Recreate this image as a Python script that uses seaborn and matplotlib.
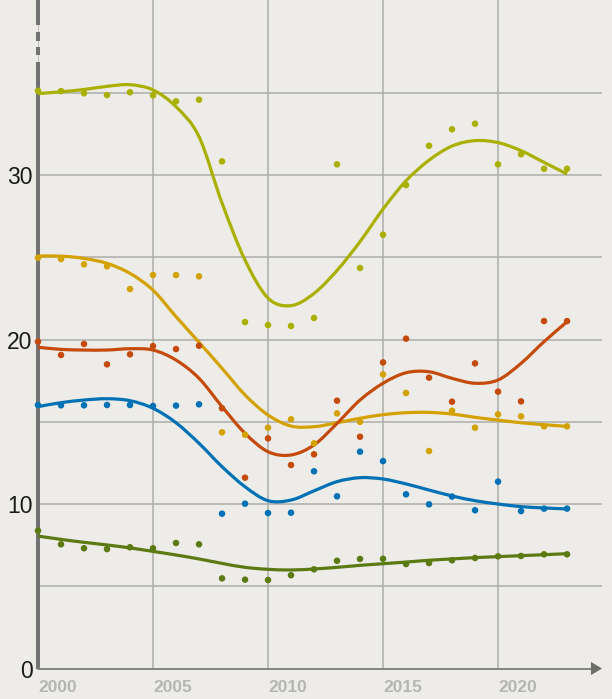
import numpy as np
import pandas as pd
import matplotlib
matplotlib.use('Agg')
import matplotlib.pyplot as plt
from matplotlib.path import Path
from matplotlib.patches import PathPatch
import seaborn as sns

years = list(range(2000, 2024))

# observed points
olive_pts = [35.12, 35.1, 34.97, 34.86, 35.03, 34.84, 34.48, 34.58, 30.83, 21.06, 20.88, 20.82,
             21.31, 30.65, 24.35, 26.37, 29.39, 31.78, 32.78, 33.12, 30.65, 31.26, 30.38, 30.38]
gold_pts = [24.97, 24.89, 24.57, 24.45, 23.07, 23.92, 23.92, 23.84, 14.36, 14.21, 14.64, 15.15,
            13.69, 15.51, 15.0, 17.88, 16.75, 13.22, 15.67, 14.64, 15.45, 15.33, 14.72, 14.72]
red_pts = [19.87, 19.06, 19.73, 18.49, 19.1, 19.6, 19.42, 19.62, 15.82, 11.6, 13.99, 12.37,
           13.02, 16.28, 14.09, 18.61, 20.05, 17.68, 16.22, 18.55, 16.83, 16.24, 21.12, 21.12]
blue_pts = [16.02, 16.0, 16.0, 16.02, 16.02, 15.96, 15.98, 16.06, 9.41, 10.02, 9.45, 9.47,
            11.99, 10.47, 13.18, 12.61, 10.59, 9.98, 10.45, 9.62, 11.36, 9.57, 9.72, 9.72]
green_pts = [8.38, 7.55, 7.31, 7.26, 7.37, 7.31, 7.63, 7.55, 5.48, 5.4, 5.38, 5.67,
             6.03, 6.55, 6.66, 6.67, 6.35, 6.41, 6.58, 6.72, 6.82, 6.84, 6.94, 6.94]

# trend curves
olive_fit = [34.95, 35.06, 35.2, 35.39, 35.49, 35.17, 34.15, 32.33, 28.3, 24.83, 22.52, 22.06,
             22.8, 24.2, 25.95, 27.93, 29.65, 30.9, 31.76, 32.09, 31.97, 31.48, 30.77, 30.06]
gold_fit = [25.07, 25.07, 24.93, 24.63, 24.02, 23.0, 21.39, 19.83, 18.25, 16.63, 15.41, 14.74,
            14.7, 14.94, 15.21, 15.43, 15.55, 15.57, 15.47, 15.27, 15.1, 14.94, 14.82, 14.72]
red_fit = [19.53, 19.4, 19.36, 19.36, 19.44, 19.36, 18.75, 17.64, 15.92, 14.3, 13.18, 12.98,
           13.59, 14.9, 16.32, 17.34, 17.98, 18.04, 17.64, 17.34, 17.54, 18.55, 19.87, 21.08]
blue_fit = [15.92, 16.16, 16.32, 16.4, 16.28, 15.82, 14.94, 13.69, 12.27, 11.05, 10.2, 10.24,
            10.8, 11.36, 11.6, 11.52, 11.22, 10.85, 10.49, 10.2, 10.0, 9.84, 9.76, 9.7]
green_fit = [8.05, 7.85, 7.67, 7.51, 7.33, 7.12, 6.9, 6.66, 6.39, 6.15, 6.03, 5.99,
             6.05, 6.15, 6.27, 6.37, 6.47, 6.58, 6.66, 6.74, 6.8, 6.86, 6.92, 6.98]

series = ['olive', 'gold', 'red', 'blue', 'green']
colors = {'olive': '#AAB000', 'gold': '#D4A200', 'red': '#C54B0C',
          'blue': '#0071B4', 'green': '#5B7A12'}
fits = {'olive': olive_fit, 'gold': gold_fit, 'red': red_fit,
        'blue': blue_fit, 'green': green_fit}

pts = pd.DataFrame({'year': years * 5,
                    'value': olive_pts + gold_pts + red_pts + blue_pts + green_pts,
                    'series': [s for s in series for _ in years]})


def smooth_path(xs, ys):
    # catmull-rom segments drawn as cubic bezier curves
    xs, ys = np.asarray(xs, float), np.asarray(ys, float)
    n = len(xs)
    verts = [(xs[0], ys[0])]
    codes = [Path.MOVETO]
    for i in range(n - 1):
        i0, i2, i3 = max(i - 1, 0), i + 1, min(i + 2, n - 1)
        c1 = (xs[i] + (xs[i2] - xs[i0]) / 6, ys[i] + (ys[i2] - ys[i0]) / 6)
        c2 = (xs[i2] - (xs[i3] - xs[i]) / 6, ys[i2] - (ys[i3] - ys[i]) / 6)
        verts += [c1, c2, (xs[i2], ys[i2])]
        codes += [Path.CURVE4] * 3
    return Path(verts, codes)


sns.set_theme(style='white')
plt.rcParams['font.family'] = ['Liberation Sans', 'DejaVu Sans']

bg = '#EDECE8'
fig = plt.figure(figsize=(6.12, 6.99), dpi=100, facecolor=bg)
ax = fig.add_axes([38 / 612, 30.5 / 699, 564 / 612, 668.5 / 699])
ax.set_facecolor(bg)

for s in series:
    ax.add_patch(PathPatch(smooth_path(years, fits[s]), fill=False,
                           edgecolor=colors[s], lw=2.3, zorder=3))
sns.scatterplot(data=pts, x='year', y='value', hue='series', palette=colors,
                s=22, linewidth=0, legend=False, ax=ax, zorder=4, clip_on=False)

ax.set_xlim(2000, 2024.52)
ax.set_ylim(0, 40.64)
ax.set_xlabel('')
ax.set_ylabel('')

ax.set_xticks([2000, 2005, 2010, 2015, 2020])
ax.set_xticklabels(['2000', '2005', '2010', '2015', '2020'], ha='left',
                   fontsize=12.5, fontweight='bold', color='#B5B5B1')
ax.set_yticks([0, 5, 10, 15, 20, 25, 30, 35])
ax.set_yticklabels(['0', '', '10', '', '20', '', '30', ''], fontsize=16.5, color='#1A1A1A')
ax.tick_params(axis='x', length=0, pad=8)
ax.tick_params(axis='y', length=0, pad=4)
for lab in ax.get_xticklabels():
    lab.set_x(lab.get_position()[0])
ax.grid(True, color='#ADADA9', lw=1.1)
ax.set_axisbelow(True)
for sp in ax.spines.values():
    sp.set_visible(False)

# left axis with break marks at the top
for y0, y1 in [(0, 36.89), (37.28, 37.8), (38.16, 38.71), (39.12, 40.64)]:
    ax.plot([2000, 2000], [y0, y1], color='#727272', lw=2.9,
            solid_capstyle='butt', clip_on=False, zorder=2)

# bottom axis with arrow
ax.plot([2000, 2024.05], [0, 0], color='#7E7E79', lw=1.3, clip_on=False, zorder=2)
ax.fill([2024.04, 2024.52, 2024.04], [0.4, 0, -0.4], color='#6E6E69',
        clip_on=False, zorder=2, lw=0)

fig.savefig('out.png', dpi=100, facecolor=bg)
